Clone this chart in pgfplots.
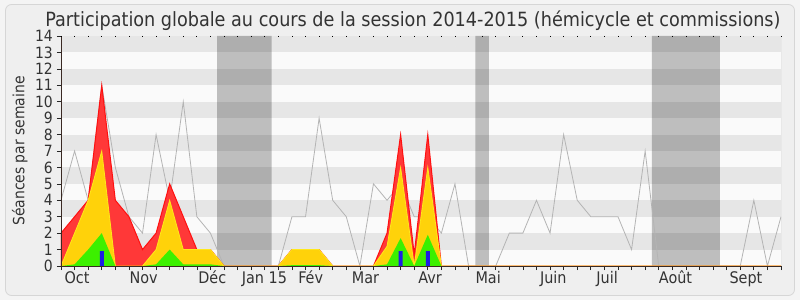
\documentclass[border=0pt]{standalone}
\usepackage{pgfplots}
\usepackage{pgfplotstable}
\pgfplotsset{compat=1.18}
\usepackage{fontspec}
\setmainfont{DejaVu Sans Condensed}
\newfontfamily\titlefont{DejaVu Sans Condensed}
\definecolor{bgout}{HTML}{F4F4F4}
\definecolor{bgin}{HTML}{EFEFEF}
\definecolor{framec}{HTML}{D6D6D6}
\definecolor{lightrow}{HTML}{FAFAFA}
\definecolor{darkrow}{HTML}{E6E6E6}
\definecolor{redf}{HTML}{FF3838}
\definecolor{redline}{HTML}{FF1010}
\definecolor{yellowf}{HTML}{FFD20A}
\definecolor{yellowline}{HTML}{FFE81A}
\definecolor{greenf}{HTML}{3CF000}
\definecolor{bluef}{HTML}{1E1EE6}
\definecolor{greyline}{HTML}{B4B4B4}
\definecolor{axisc}{HTML}{3A2A24}

\pgfplotstableread{
w g r y v
0 4 2 0 0
1 7 3 2 0.1
2 4 4 4 1
3 11 11 7 2
4 6 4 0 0
5 3 3 0 0
6 2 1 0 0
7 8 2 1 0.1
8 4 5 4 1
9 10 3 1 0.1
10 3 1 1 0.1
11 2 1 1 0.1
12 0 0 0 0
13 0 0 0 0
14 0 0 0 0
15 0 0 0 0
16 0 0 0 0
17 3 1 1 0.05
18 3 1 1 0.05
19 9 1 1 0.05
20 4 0 0 0
21 3 0 0 0
22 0 0 0 0
23 5 0 0 0
24 4 2 1.2 0.1
25 5 8 6 1.7
26 3 0.7 0 0
27 3 8 6 1.9
28 2 0 0 0
29 5 0 0 0
30 0 0 0 0
31 0 0 0 0
32 0 0 0 0
33 2 0 0 0
34 2 0 0 0
35 4 0 0 0
36 2 0 0 0
37 8 0 0 0
38 4 0 0 0
39 3 0 0 0
40 3 0 0 0
41 3 0 0 0
42 1 0 0 0
43 7 0 0 0
44 0 0 0 0
45 0 0 0 0
46 0 0 0 0
47 0 0 0 0
48 0 0 0 0
49 0 0 0 0
50 0 0 0 0
51 4 0 0 0
52 0 0 0 0
53 3 0 0 0
}\data

\begin{document}
\begin{tikzpicture}[x=1pt,y=1pt]
\fill[bgout] (0,0) rectangle (800,300);
\draw[framec, fill=bgin, rounded corners=6pt, line width=0.8pt] (5.5,4.5) rectangle (794.5,295.5);
\begin{pgfinterruptboundingbox}
\node[anchor=base, font=\titlefont\fontsize{19.6}{19.6}\selectfont, text=black!80] at (413,273) {Participation globale au cours de la session 2014-2015 (hémicycle et commissions)};
\begin{axis}[
  at={(61pt,34pt)}, anchor=south west,
  width=720pt, height=230pt, scale only axis,
  xmin=0, xmax=53, ymin=0, ymax=14,
  axis on top,
  axis x line*=bottom, axis y line*=left,
  axis line style={-, axisc, line width=0.9pt},
  xtick={0,...,53}, xticklabels={},
  ytick={0,...,14},
  tick align=outside, major tick length=4pt,
  tick style={black!85, line width=0.7pt},
  extra x ticks={0.25,5.04,10.1,13.3,17.45,21.4,26.3,30.5,35.25,39.4,44.0,49.2},
  extra x tick labels={Oct,Nov,Déc,Jan 15,Fév,Mar,Avr,Mai,Juin,Juil,Août,Sept},
  extra x tick style={major tick length=0pt, tick label style={anchor=base west, inner sep=0pt, yshift=-17pt, font=\fontsize{16}{16}\selectfont, text=black!80}},
  yticklabel style={font=\fontsize{15.5}{15.5}\selectfont, inner sep=0pt, xshift=-4pt, text=black!80},
  /pgf/number format/assume math mode=true,
  ylabel={Séances par semaine},
  ylabel style={font=\fontsize{15.5}{15.5}\selectfont, text=black!80, yshift=4pt},
  axis background/.style={fill=lightrow},
]
\fill[darkrow] (axis cs:0,1) rectangle (axis cs:53,2);
\fill[darkrow] (axis cs:0,3) rectangle (axis cs:53,4);
\fill[darkrow] (axis cs:0,5) rectangle (axis cs:53,6);
\fill[darkrow] (axis cs:0,7) rectangle (axis cs:53,8);
\fill[darkrow] (axis cs:0,9) rectangle (axis cs:53,10);
\fill[darkrow] (axis cs:0,11) rectangle (axis cs:53,12);
\fill[darkrow] (axis cs:0,13) rectangle (axis cs:53,14);
\addplot[draw=none, fill=black, fill opacity=0.24] coordinates {(11.5,0)(11.5,14)(15.5,14)(15.5,0)} \closedcycle;
\addplot[draw=none, fill=black, fill opacity=0.24] coordinates {(30.5,0)(30.5,14)(31.5,14)(31.5,0)} \closedcycle;
\addplot[draw=none, fill=black, fill opacity=0.24] coordinates {(43.5,0)(43.5,14)(48.5,14)(48.5,0)} \closedcycle;
\addplot[greyline, line width=0.8pt] table[x=w, y=g] {\data};
\addplot[draw=redline, line width=1pt, fill=redf] table[x=w, y=r] {\data} \closedcycle;
\addplot[draw=yellowline, line width=0.8pt, fill=yellowf] table[x=w, y=y] {\data} \closedcycle;
\addplot[draw=none, fill=greenf] table[x=w, y=v] {\data} \closedcycle;
\addplot[ybar, bar width=4pt, fill=bluef, draw=none] coordinates {(3,0.9)(25,0.9)(27,0.9)};
\draw[black!25, line width=0.8pt] (axis cs:53,0) -- (axis cs:53,14);
\end{axis}
\begin{axis}[
  at={(61pt,34pt)}, anchor=south west,
  width=720pt, height=230pt, scale only axis,
  xmin=0, xmax=53, ymin=0, ymax=14,
  axis x line*=top, axis y line=none,
  x axis line style={draw=none},
  xtick={0,...,53}, xticklabels={},
  tick align=inside, major tick length=1.5pt,
  tick style={black, line width=0.8pt},
]
\end{axis}
\end{pgfinterruptboundingbox}
\end{tikzpicture}
\end{document}
